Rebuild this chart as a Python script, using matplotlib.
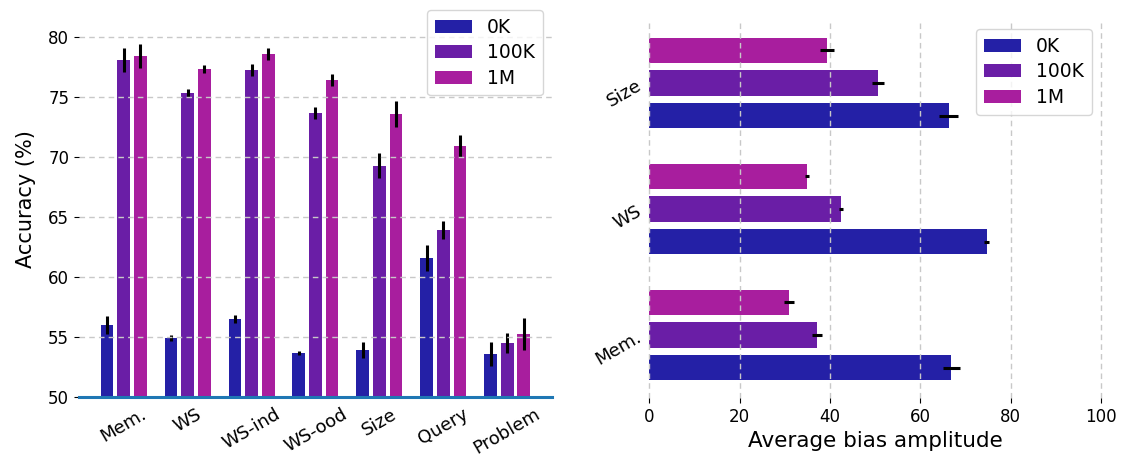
import matplotlib.pyplot as plt
import numpy as np

# left panel: accuracy per task
tasks = ["Mem.", "WS", "WS-ind", "WS-ood", "Size", "Query", "Problem"]
acc_0k = [56.0, 54.92, 56.5, 53.67, 53.92, 61.58, 53.58]
acc_100k = [78.08, 75.33, 77.25, 73.67, 69.28, 63.92, 54.5]
acc_1m = [78.4, 77.33, 78.58, 76.42, 73.58, 70.92, 55.25]
err_0k = [0.75, 0.22, 0.36, 0.2, 0.7, 1.1, 1.0]
err_100k = [1.0, 0.33, 0.53, 0.47, 1.05, 0.75, 0.8]
err_1m = [1.0, 0.35, 0.53, 0.47, 1.1, 0.9, 1.33]

# right panel: bias amplitude
bias_tasks = ["Mem.", "WS", "Size"]
bias_0k = [66.9, 74.7, 66.3]
bias_100k = [37.1, 42.4, 50.6]
bias_1m = [30.9, 34.9, 39.3]
bias_err_0k = [1.8, 0.6, 2.1]
bias_err_100k = [1.1, 0.45, 1.4]
bias_err_1m = [1.05, 0.45, 1.5]

labels = ["0K", "100K", "1M"]
colors = ["#2420a6", "#6a1ea6", "#a81e9e"]

fig = plt.figure(figsize=(11.23, 4.59), dpi=100)

off = 0.26
w = 0.2
leg_kw = dict(loc="upper right", fontsize=13.5, labelspacing=0.35, borderpad=0.4,
              handlelength=2.0, handletextpad=0.8, borderaxespad=0.5)

# ---- left
ax1 = fig.add_axes([0.0703, 0.135, 0.4212, 0.863])
x = np.arange(len(tasks))
for k, (vals, errs) in enumerate([(acc_0k, err_0k), (acc_100k, err_100k), (acc_1m, err_1m)]):
    ax1.bar(x + (k - 1) * off, vals, w, color=colors[k], label=labels[k],
            yerr=errs, error_kw=dict(ecolor="black", elinewidth=2.2, capsize=0))
ax1.axhline(50, color="C0", lw=2.2, clip_on=False, zorder=3)
ax1.set_ylim(50, 83)
ax1.set_xlim(-0.7, 6.7)
ax1.set_yticks([50, 55, 60, 65, 70, 75, 80])
ax1.set_xticks(x)
ax1.set_xticklabels(tasks, rotation=30)
ax1.tick_params(axis="x", length=0, labelsize=13, pad=6)
ax1.tick_params(axis="y", labelsize=12)
ax1.set_ylabel("Accuracy (%)", fontsize=15, labelpad=9)
ax1.grid(axis="y", color="#c8c8c8", linestyle=(0, (4, 3)), lw=1)
ax1.set_axisbelow(False)
for s in ax1.spines.values():
    s.set_visible(False)
ax1.legend(**leg_kw)

# ---- right
ax2 = fig.add_axes([0.5782, 0.1329, 0.4022, 0.8235])
y = np.arange(len(bias_tasks))
for k, (vals, errs) in enumerate([(bias_0k, bias_err_0k), (bias_100k, bias_err_100k), (bias_1m, bias_err_1m)]):
    ax2.barh(y + (k - 1) * off, vals, w, color=colors[k], label=labels[k],
             xerr=errs, error_kw=dict(ecolor="black", elinewidth=2.2, capsize=0))
ax2.set_xlim(0, 100)
ax2.set_ylim(-0.5, 2.5)
ax2.set_yticks(y)
ax2.set_yticklabels(bias_tasks, rotation=30)
ax2.tick_params(axis="y", length=0, labelsize=13)
ax2.tick_params(axis="x", labelsize=12)
ax2.set_xlabel("Average bias amplitude", fontsize=15.5)
ax2.grid(axis="x", color="#c8c8c8", linestyle=(0, (4, 3)), lw=1)
for gl in ax2.get_xgridlines():
    gl.set_clip_on(False)
ax2.set_axisbelow(False)
for s in ax2.spines.values():
    s.set_visible(False)
ax2.legend(**leg_kw)

fig.savefig("out.png", dpi=100)
